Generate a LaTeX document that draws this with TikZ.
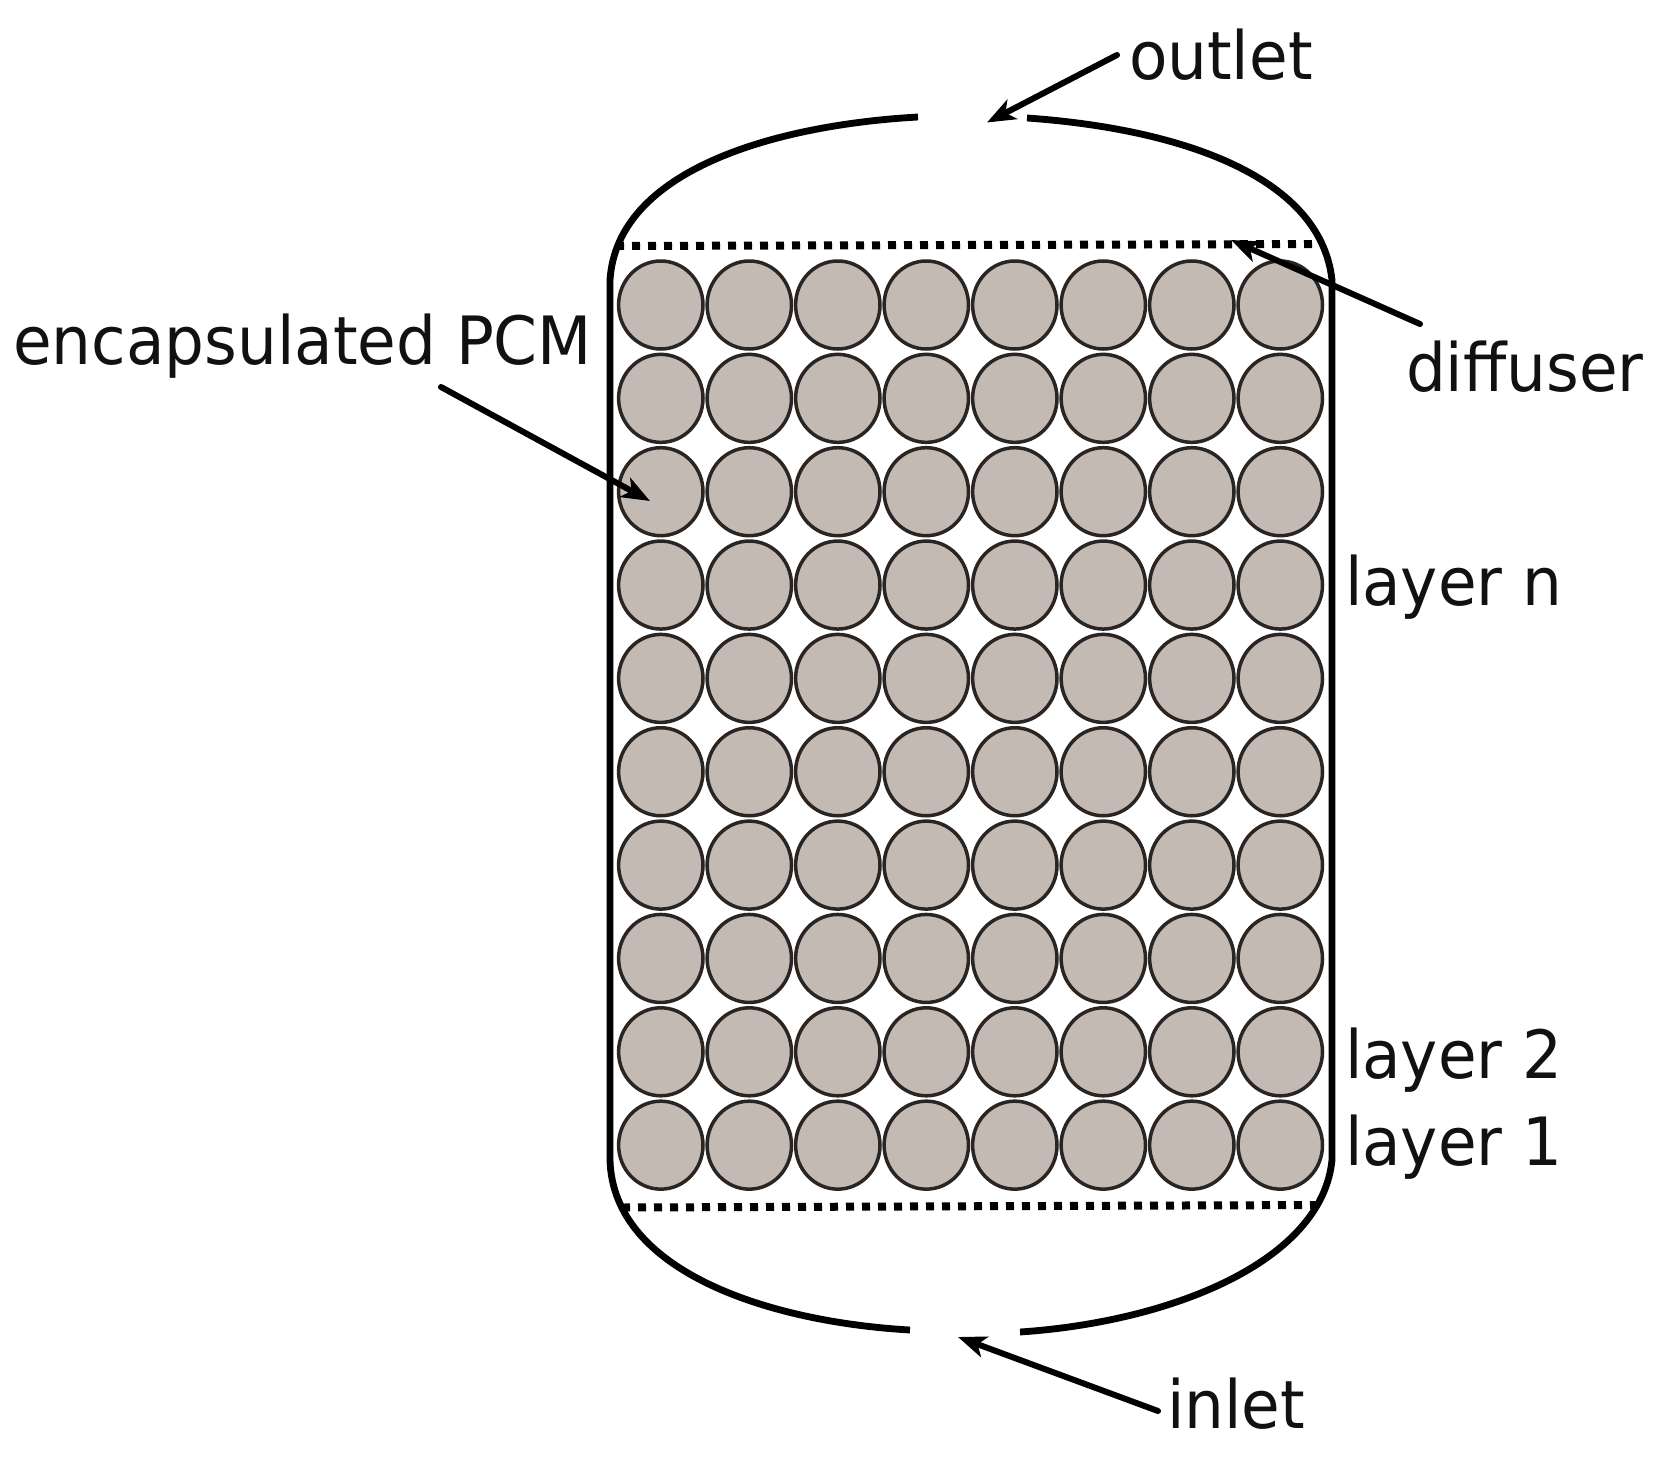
\documentclass[tikz,border=0pt]{standalone}
\usepackage{graphicx}
\usepackage{fontspec}
\setmainfont{DejaVu Sans}
\usetikzlibrary{arrows.meta}
\definecolor{pcmfill}{HTML}{C4BAB4}
\definecolor{ink}{HTML}{111111}
\definecolor{rim}{HTML}{2A2522}
\newcommand{\labtext}[1]{\scalebox{1}[1.06]{\fontsize{37.7pt}{40pt}\selectfont #1}}
\tikzset{
  x=0.6pt,y=-0.6pt,
  pcm/.style={draw=rim,fill=pcmfill,line width=2.1pt},
  shell/.style={draw=black,line width=4.1pt,line cap=butt},
  diffuserline/.style={draw=black,line width=4.8pt,dash pattern=on 4.8pt off 4.8pt},
  pointer/.style={draw=black,line width=3.6pt,line cap=round,-{Stealth[length=17pt,width=13pt,inset=4.5pt]}},
  lab/.style={inner sep=0pt,outer sep=0pt,anchor=base west,text=ink},
}
\begin{document}
\begin{tikzpicture}
\useasboundingbox (0,0) rectangle (1665,1458);
% packed bed
\foreach \r in {0,...,9}{
  \foreach \c in {0,...,7}{
    \path[pcm] ({660.8+88.5*\c},{305+93.35*\r}) ellipse [x radius=42.2,y radius=44];
  }
}
% diffusers
\coordinate (dtl) at (616,246); \coordinate (dtr) at (1320,244);
\coordinate (dbl) at (622,1207.5); \coordinate (dbr) at (1322,1205);
\draw[diffuserline] (dtl) -- (dtr);
\draw[diffuserline] (dbl) -- (dbr);
% shell
\draw[shell] (918,117) .. controls (775,125) and (617,170) .. (610,280)
  -- (610,1160) .. controls (613,1272) and (770,1322) .. (910,1330);
\draw[shell] (1027,118) .. controls (1170,128) and (1320,172) .. (1332,280)
  -- (1332,1160) .. controls (1322,1262) and (1170,1322) .. (1020,1332);
% labels
\node[lab] (outlet) at (1129,80) {\labtext{outlet}};
\node[lab] (diffuser) at (1406,391) {\labtext{diffuser}};
\node[lab] (pcmlabel) at (13,364) {\labtext{encapsulated PCM}};
\node[lab] (layern) at (1345,605) {\labtext{layer n}};
\node[lab] (layer2) at (1345,1078) {\labtext{layer 2}};
\node[lab] (layer1) at (1345,1165) {\labtext{layer 1}};
\node[lab] (inlet) at (1167,1428) {\labtext{inlet}};
% pointers
\coordinate (outTail) at (1117,55); \coordinate (outTip) at (987,122.5);
\coordinate (difTail) at (1420,324); \coordinate (difTip) at (1231,240);
\coordinate (pcmTail) at (441,387); \coordinate (pcmTip) at (650,501);
\coordinate (inTail) at (1158,1411); \coordinate (inTip) at (958,1337);
\draw[pointer] (outTail) -- (outTip);
\draw[pointer] (difTail) -- (difTip);
\draw[pointer] (pcmTail) -- (pcmTip);
\draw[pointer] (inTail) -- (inTip);
\end{tikzpicture}
\end{document}
